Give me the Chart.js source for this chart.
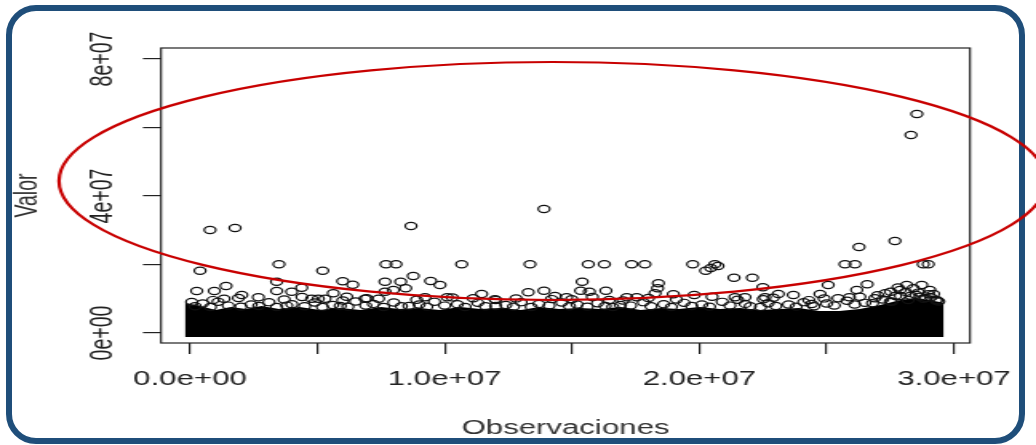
<!DOCTYPE html>
<html><head><meta charset="utf-8">
<script src="https://cdn.jsdelivr.net/npm/chart.js@4.4.1/dist/chart.umd.min.js"></script>
<style>
html,body{margin:0;padding:0;background:#fff;width:1036px;height:445px;overflow:hidden;}
#frame{position:absolute;left:6px;top:5px;width:1019px;height:439px;box-sizing:border-box;border:6px solid #1f4e7a;border-radius:30px;z-index:0;}
#wrap{position:absolute;left:0;top:0;width:648px;height:445px;transform:scaleX(1.5988);transform-origin:0 0;z-index:1;}
</style></head><body>
<div id="frame"></div>
<div id="wrap"><canvas id="c" width="648" height="445"></canvas></div>
<script>
// ---- data (values in millions) ----
const M = 1e6;
// isolated / sparse observations (x = observation index, y = Valor)
const obsX = [0.785,1.767,8.677,13.90,28.31,28.54,27.68,26.27,
  0.393,3.494,5.21,3.404,5.995,6.388,1.413,0.263,0.954,3.404,4.386,1.335,0.067,2.682,2.03,3.993,4.778,5.037,5.30,6.871,5.626,6.152,
  7.695,8.088,10.668,13.35,8.767,7.656,8.272,9.45,9.816,8.469,7.656,7.982,11.45,13.28,13.90,14.33,6.938,9.227,10.10,11.975,11.12,14.79,
  15.64,16.27,17.34,17.86,19.74,20.61,20.73,20.45,20.25,21.36,22.08,15.40,18.39,18.36,22.49,15.34,15.68,16.33,18.26,18.98,19.80,14.99,17.15,17.54,21.40,21.79,22.51,16.46,
  25.72,26.11,28.79,28.99,25.06,26.59,26.18,28.14,28.73,25.45,25.89,24.74,24.41,23.10,23.69,27.51,27.88,28.40,29.05,22.58,26.89,27.55,29.32,28.66,
  27.3,28.1,28.6,29.0,27.8];
const obsY = [30.07,30.66,31.24,36.20,57.81,63.94,26.86,25.11,
  18.19,20.06,18.19,14.98,15.09,14.10,13.72,12.26,12.26,12.26,13.23,10.01,9.05,10.42,11.09,12.06,10.01,10.01,10.01,10.01,11.59,10.60,
  20.06,20.06,20.06,20.06,16.64,14.98,14.98,15.18,14.01,13.05,12.06,12.55,11.39,11.88,12.35,10.80,10.13,10.42,10.42,9.84,10.13,10.42,
  20.06,20.06,20.06,20.06,20.06,20.06,19.56,18.98,18.19,16.15,16.15,14.98,14.51,13.05,13.34,12.35,12.06,12.35,11.59,11.30,11.09,9.84,10.42,10.42,10.42,10.42,9.84,9.64,
  20.06,20.06,20.06,20.06,14.01,14.22,12.55,14.01,14.01,10.13,10.42,11.39,8.47,11.39,11.09,12.06,12.55,13.05,12.55,10.42,10.13,9.14,9.64,10.60,
  11.6,12.0,11.8,11.3,13.3];
// observations sitting on top of the dense mass
const edgeX = [0.5,1.1,2.4,3.1,4.0,4.9,5.6,6.5,7.2,8.0,9.0,9.6,10.5,11.3,12.4,13.0,13.7,14.6,15.2,16.0,16.9,17.8,18.6,19.4,20.1,20.9,21.8,22.7,23.5,24.1,25.0,25.8,26.5,27.2,27.9,28.5,29.1,29.4,
  0.2,0.8,1.5,2.0,2.7,3.4,3.8,4.5,5.2,5.9,6.2,6.9,7.6,8.3,8.6,9.3,10.0,10.8,11.6,12.0,12.7,13.4,14.1,14.9,15.6,16.3,16.6,17.3,18.1,18.9,19.7,20.4,21.2,22.0,22.4,23.0,23.8,24.5,25.3,26.1,26.8,27.5,28.2,28.8,29.3,
  0.9,1.9,3.7,4.4,6.0,7.4,8.9,10.3,12.0,12.8,14.2,15.8,17.0,18.0,19.1,20.5,21.5,22.9,24.3,24.9,26.3,27.0,27.7,28.3,28.9,29.2];
const edgeY = [8.6,9.1,8.3,9.0,8.4,8.9,8.2,9.2,8.5,8.9,8.3,9.1,8.4,8.8,8.2,9.0,8.5,8.9,8.3,8.7,8.2,9.0,8.4,8.8,8.3,9.1,8.5,8.7,8.3,9.0,8.6,9.4,8.8,9.8,10.8,11.2,10.4,9.2,
  7.8,7.6,8.0,7.7,7.9,7.6,8.0,7.8,7.6,7.9,7.7,8.0,7.6,7.8,7.9,7.7,8.0,7.6,7.8,7.9,7.7,7.6,8.0,7.8,7.7,7.9,7.6,8.0,7.8,7.6,7.9,7.7,8.0,7.8,7.6,7.9,7.7,7.8,8.0,8.3,8.7,9.2,9.6,10.0,9.4,
  9.6,10.2,9.8,10.5,9.5,10.0,9.7,10.4,9.6,10.1,9.9,10.5,9.5,10.2,9.8,10.6,9.7,10.3,9.6,10.1,10.6,11.0,10.8,10.9,10.2,11.4];
// upper envelope of the saturated (overplotted) mass of points
const massX = [-0.2,0.4,1.0,1.6,2.2,2.8,3.5,4.3,5.1,5.9,6.7,7.5,8.2,9.0,9.8,10.6,11.4,12.2,13.0,13.7,14.5,15.3,16.1,16.9,17.7,18.5,19.2,20.0,20.8,21.6,22.4,23.2,23.9,24.7,25.5,26.3,27.1,27.9,28.5,29.0,29.6];
const massY = [8.8,7.9,6.7,7.6,7.0,7.9,7.0,7.6,6.7,7.3,6.7,7.6,7.0,7.3,6.7,7.6,7.0,7.3,6.7,7.6,7.0,7.3,7.0,7.6,6.7,7.3,7.0,7.6,7.0,7.3,6.7,7.0,7.3,6.4,6.4,7.0,8.2,9.6,10.2,9.6,8.8];
const massFloor = -1.2; // bottom of the mass (circle extent below 0)

const xTickValues = [0,5e6,1e7,1.5e7,2e7,2.5e7,3e7];
const xTickLabels = ['0.0e+00','','1.0e+07','','2.0e+07','','3.0e+07'];
const yTickValues = [0,2e7,4e7,6e7,8e7];
const yTickLabels = ['0e+00','','4e+07','','8e+07'];

// red annotation ellipse (data units)
const ellipseAnn = {cx:14.236e6, cy:44.38e6, rx:19.38e6, ry:34.74e6};

const pts = (xs, ys) => xs.map((x,i)=>({x:x*M, y:ys[i]*M}));

const boxPlugin = {
  id:'rbox',
  afterDatasetsDraw(chart){
    const {ctx, chartArea:a} = chart;
    ctx.save(); ctx.strokeStyle='#222'; ctx.lineWidth=1.2;
    ctx.strokeRect(a.left, a.top, a.right-a.left, a.bottom-a.top);
    ctx.restore();
  },
  afterDraw(chart){
    const {ctx, scales:{x,y}} = chart;
    const cx = x.getPixelForValue(ellipseAnn.cx), cy = y.getPixelForValue(ellipseAnn.cy);
    const rx = Math.abs(x.getPixelForValue(ellipseAnn.cx+ellipseAnn.rx)-cx);
    const ry = Math.abs(y.getPixelForValue(ellipseAnn.cy+ellipseAnn.ry)-cy);
    ctx.save(); ctx.strokeStyle='#c80000'; ctx.lineWidth=2.2;
    ctx.beginPath(); ctx.ellipse(cx,cy,rx,ry,0,0,Math.PI*2); ctx.stroke(); ctx.restore();
  }
};

const font = {family:'"Liberation Sans", Arial, sans-serif', size:19.5};
const circ = {pointStyle:'circle', pointRadius:3.6, pointBorderWidth:1.2, borderColor:'#111', backgroundColor:'rgba(0,0,0,0)', showLine:false};

new Chart(document.getElementById('c'), {
  type:'scatter',
  data:{datasets:[
    {label:'mass', data:pts(massX, massY), showLine:true, pointRadius:0, borderWidth:0, borderColor:'rgba(0,0,0,0)', backgroundColor:'#000', fill:{value:massFloor*M}, tension:0, order:3},
    Object.assign({label:'edge', data:pts(edgeX, edgeY), order:2}, circ),
    Object.assign({label:'obs', data:pts(obsX, obsY), order:1}, circ)
  ]},
  options:{
    responsive:false, animation:false, devicePixelRatio:1,
    layout:{padding:{left:0, right:41.3, top:48, bottom:0}},
    plugins:{legend:{display:false}, tooltip:{enabled:false}},
    scales:{
      x:{type:'linear', min:-1.139e6, max:3.0628e7,
        afterBuildTicks:s=>{s.ticks = xTickValues.map(v=>({value:v}));},
        afterFit:s=>{s.height = 102;},
        border:{display:false},
        grid:{display:true, drawOnChartArea:false, drawTicks:true, tickLength:11, color:'#222', lineWidth:1.2},
        ticks:{autoSkip:false, maxRotation:0, minRotation:0, padding:14, color:'#222', font,
          callback:(v,i)=>xTickLabels[i]},
        title:{display:true, text:'Observaciones', color:'#333', font, padding:{top:0,bottom:5}}
      },
      y:{type:'linear', min:-2.92e6, max:8.321e7,
        afterBuildTicks:s=>{s.ticks = yTickValues.map(v=>({value:v}));},
        afterFit:s=>{s.width = 100.7;},
        border:{display:false},
        grid:{display:true, drawOnChartArea:false, drawTicks:true, tickLength:11.3, color:'#222', lineWidth:1.2},
        ticks:{autoSkip:false, minRotation:90, maxRotation:90, crossAlign:'center', padding:-2.4, color:'#222', font,
          callback:(v,i)=>yTickLabels[i]},
        title:{display:true, text:'Valor', color:'#333', font, padding:{top:6,bottom:0}}
      }
    }
  },
  plugins:[boxPlugin]
});
</script>
</body></html>
